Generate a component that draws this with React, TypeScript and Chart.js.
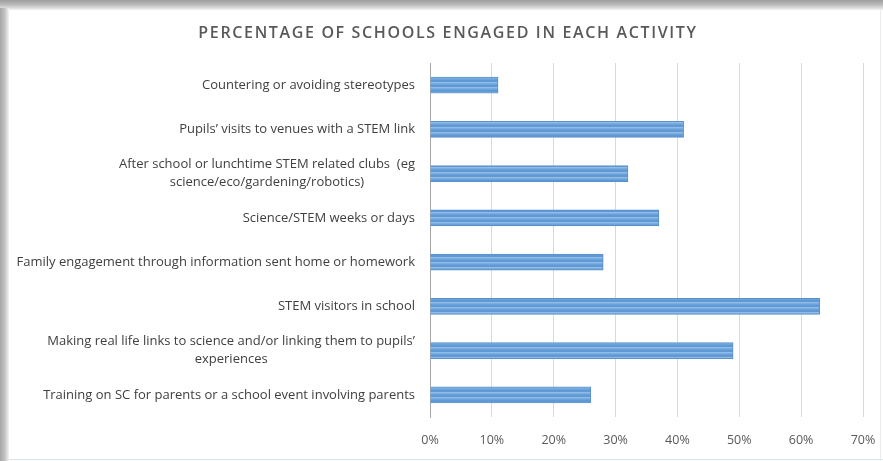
import React, { useEffect, useRef } from "react";
import { Chart, registerables } from "chart.js";

Chart.register(...registerables);

const TITLE = "PERCENTAGE OF SCHOOLS ENGAGED IN EACH ACTIVITY";

const categories: (string | string[])[] = [
  "Countering or avoiding stereotypes",
  "Pupils\u2019 visits to venues with a STEM link",
  ["After school or lunchtime STEM related clubs  (eg", "science/eco/gardening/robotics)"],
  "Science/STEM weeks or days",
  "Family engagement through information sent home or homework",
  "STEM visitors in school",
  ["Making real life links to science and/or linking them to pupils\u2019", "experiences"],
  "Training on SC for parents or a school event involving parents",
];

const percentages: number[] = [11, 41, 32, 37, 28, 63, 49, 26];

const xTicks: number[] = [0, 10, 20, 30, 40, 50, 60, 70];

const FONT = "'Open Sans', 'DejaVu Sans', sans-serif";

export default function App() {
  const ref = useRef<HTMLCanvasElement | null>(null);

  useEffect(() => {
    const canvas = ref.current;
    if (!canvas) return;

    const pc = document.createElement("canvas");
    pc.width = 4;
    pc.height = 5;
    const pctx = pc.getContext("2d")!;
    const rows = ["#5e99d5", "#6199d5", "#92bbe6", "#79ace0", "#6aa2da"];
    rows.forEach((c, i) => {
      pctx.fillStyle = c;
      pctx.fillRect(0, i, 4, 1);
    });
    const pattern = canvas.getContext("2d")!.createPattern(pc, "repeat");

    const framePlugin = {
      id: "frame",
      beforeDraw(chart: any) {
        const ctx = chart.ctx as CanvasRenderingContext2D;
        const w = chart.width;
        const h = chart.height;
        ctx.save();
        ctx.fillStyle = "#ffffff";
        ctx.fillRect(0, 0, w, h);
        const top = ctx.createLinearGradient(0, 0, 0, 10);
        top.addColorStop(0, "#9e9e9e");
        top.addColorStop(0.5, "#bdbdbd");
        top.addColorStop(1, "#f2f2f2");
        ctx.fillStyle = top;
        ctx.fillRect(0, 0, w, 10);
        const left = ctx.createLinearGradient(0, 0, 9, 0);
        left.addColorStop(0, "#a6a6a6");
        left.addColorStop(0.55, "#c4c4c4");
        left.addColorStop(1, "#f4f4f4");
        ctx.fillStyle = left;
        ctx.fillRect(0, 8, 9, h - 8);
        ctx.fillStyle = "#d6e4f0";
        ctx.fillRect(9, h - 2, w - 9, 1);
        ctx.fillStyle = "#ececec";
        ctx.fillRect(w - 3, 10, 1, h - 10);
        ctx.restore();
      },
    };

    const labelPlugin = {
      id: "customLabels",
      afterDraw(chart: any) {
        const ctx = chart.ctx as CanvasRenderingContext2D;
        ctx.save();
        ctx.font = `600 16px ${FONT}`;
        ctx.fillStyle = "#595959";
        (ctx as any).letterSpacing = "1.65px";
        ctx.textAlign = "center";
        ctx.textBaseline = "middle";
        ctx.fillText(TITLE, 448, 33);
        ctx.restore();

        const yScale = chart.scales.y;
        const right = chart.chartArea.left - 15;
        ctx.save();
        ctx.font = `13px ${FONT}`;
        ctx.fillStyle = "#404040";
        ctx.textBaseline = "middle";
        ctx.textAlign = "center";
        const lh = 18;
        categories.forEach((lab, i) => {
          const lines = Array.isArray(lab) ? lab : [lab];
          const maxW = Math.max(...lines.map((l) => ctx.measureText(l).width));
          const cx = right - maxW / 2;
          const cy = yScale.getPixelForValue(i);
          const y0 = cy - ((lines.length - 1) * lh) / 2;
          lines.forEach((l, j) => ctx.fillText(l, cx, y0 + j * lh));
        });
        ctx.restore();
      },
    };

    const chart = new Chart(canvas, {
      type: "bar",
      data: {
        labels: categories.map((c) => (Array.isArray(c) ? c.join(" ") : c)),
        datasets: [
          {
            data: percentages,
            backgroundColor: pattern as any,
            borderColor: "#5b90cc",
            borderWidth: 1,
            borderSkipped: "start",
            barThickness: 16,
          },
        ],
      },
      options: {
        indexAxis: "y",
        animation: false,
        responsive: false,
        maintainAspectRatio: false,
        layout: { padding: { top: 63, right: 20, left: 0, bottom: 0 } },
        plugins: {
          legend: { display: false },
          title: { display: false },
          tooltip: { enabled: false },
        },
        scales: {
          x: {
            min: 0,
            max: 70,
            afterBuildTicks: (s: any) => {
              s.ticks = xTicks.map((v) => ({ value: v }));
            },
            afterFit: (s: any) => {
              s.height = 44;
              s.paddingLeft = 0;
              s.paddingRight = 0;
            },
            ticks: {
              padding: 16,
              color: "#595959",
              font: { family: FONT, size: 12.5 },
              callback: (v: any) => `${v}%`,
            },
            grid: { color: "#d9d9d9", lineWidth: 1, drawTicks: false },
            border: { display: false },
          },
          y: {
            afterFit: (s: any) => {
              s.width = 430;
            },
            ticks: { display: false },
            grid: { display: false, drawTicks: false },
            border: { display: true, color: "#a6a6a6", width: 1 },
          },
        },
      },
      plugins: [framePlugin, labelPlugin],
    });

    return () => chart.destroy();
  }, []);

  return (
    <canvas
      ref={ref}
      width={883}
      height={461}
      style={{ position: "fixed", left: 0, top: 0, display: "block", width: 883, height: 461 }}
    />
  );
}
